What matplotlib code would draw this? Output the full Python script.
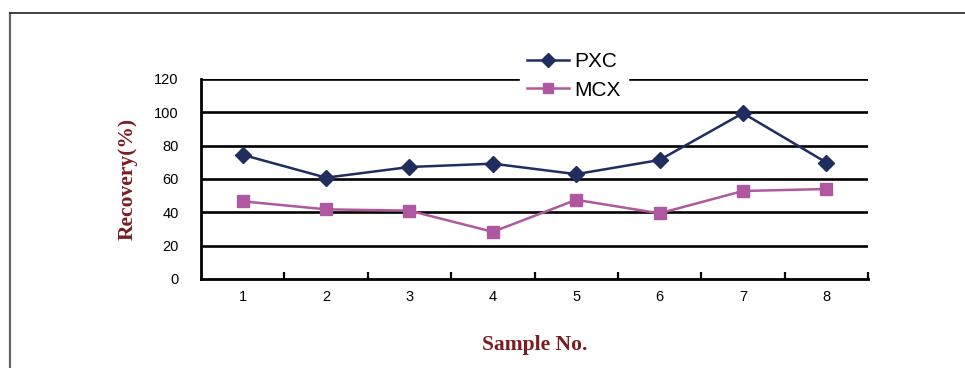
import matplotlib
matplotlib.use("Agg")
import matplotlib.pyplot as plt
from matplotlib.lines import Line2D

samples = [1, 2, 3, 4, 5, 6, 7, 8]
pxc = [74.5, 60.8, 67.2, 69.2, 62.9, 71.4, 99.5, 69.9]
mcx = [46.6, 41.8, 41.0, 28.3, 47.5, 39.4, 52.8, 54.0]
yticks = [0, 20, 40, 60, 80, 100, 120]

W, H = 965, 368
fig = plt.figure(figsize=(W / 100, H / 100), dpi=100)
fig.patch.set_facecolor("white")

# outer frame
fig.add_artist(Line2D([9.5 / W, 9.5 / W], [0, 1 - 13 / H], transform=fig.transFigure,
                      color="#666666", lw=1.6))
fig.add_artist(Line2D([9.5 / W, 1], [1 - 13 / H, 1 - 13 / H], transform=fig.transFigure,
                      color="#222222", lw=1.2))

ax = fig.add_axes([201 / W, 1 - 279 / H, (868 - 201) / W, (279 - 79) / H])
ax.set_xlim(0.5, 8.5)
ax.set_ylim(0, 120)

for v in yticks[1:]:
    ax.axhline(v, color="black", lw=1.9, zorder=1)

c_pxc = "#1f2d5f"
c_mcx = "#b0589f"
ax.plot(samples, pxc, color=c_pxc, lw=1.8, marker="D", ms=8.5, mec=c_pxc, mfc=c_pxc,
        label="PXC", zorder=4)
ax.plot(samples, mcx, color=c_mcx, lw=1.8, marker="s", ms=8.5, mec=c_mcx, mfc=c_mcx,
        label="MCX", zorder=4)

for s in ["top", "right"]:
    ax.spines[s].set_visible(False)
for s in ["left", "bottom"]:
    ax.spines[s].set_linewidth(2)
    ax.spines[s].set_color("black")

ax.set_yticks(yticks)
ax.set_yticklabels([str(v) for v in yticks], fontfamily="Liberation Sans", fontsize=10.5)
ax.tick_params(axis="y", length=0, pad=16)

ax.set_xticks([s + 0.5 for s in samples])
ax.set_xticklabels([])
ax.set_xticks(samples, minor=True)
ax.set_xticklabels([str(s) for s in samples], minor=True, fontfamily="Liberation Sans",
                   fontsize=10.5)
ax.tick_params(axis="x", which="major", direction="in", length=5, width=1.6, color="black")
ax.tick_params(axis="x", which="minor", length=0, pad=8)

label_color = "#7a1c22"
ax.set_ylabel("Recovery(%)", fontfamily="Liberation Serif", fontweight="bold",
              fontsize=15.5, color=label_color, labelpad=12)
ax.set_xlabel("Sample No.", fontfamily="Liberation Serif", fontweight="bold",
              fontsize=15.5, color=label_color, labelpad=22)

leg = ax.legend(loc="center left", bbox_to_anchor=(520 / W, 1 - 76 / H),
                bbox_transform=fig.transFigure, frameon=True, fancybox=False,
                edgecolor="white", facecolor="white", framealpha=1,
                prop={"family": "Liberation Sans", "size": 15},
                handlelength=2.0, handletextpad=0.25, labelspacing=0.45,
                borderpad=0.35, borderaxespad=0, markerscale=0.8)
leg.set_zorder(5)

fig.savefig("out.png", dpi=100, facecolor="white")
